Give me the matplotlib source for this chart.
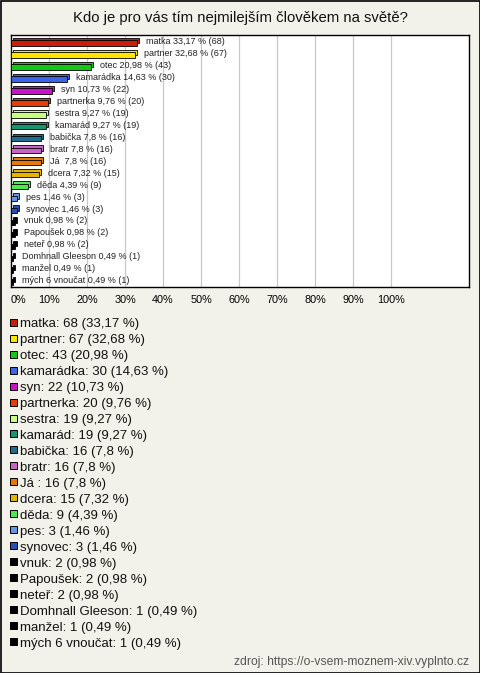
import matplotlib
matplotlib.use("Agg")
import matplotlib.pyplot as plt
import matplotlib.transforms as mtransforms
from matplotlib.patches import Rectangle

plt.rcParams['font.family'] = ['Liberation Sans', 'DejaVu Sans']

title = "Kdo je pro vás tím nejmilejším člověkem na světě?"
source = "zdroj: https://o-vsem-moznem-xiv.vyplnto.cz"

categories = ["matka", "partner", "otec", "kamarádka", "syn", "partnerka", "sestra",
              "kamarád", "babička", "bratr", "Já ", "dcera", "děda", "pes", "synovec",
              "vnuk", "Papoušek", "neteř", "Domhnall Gleeson", "manžel", "mých 6 vnoučat"]
counts = [68, 67, 43, 30, 22, 20, 19, 19, 16, 16, 16, 15, 9, 3, 3, 2, 2, 2, 1, 1, 1]
percents = [33.17, 32.68, 20.98, 14.63, 10.73, 9.76, 9.27, 9.27, 7.8, 7.8, 7.8, 7.32,
            4.39, 1.46, 1.46, 0.98, 0.98, 0.98, 0.49, 0.49, 0.49]
colors = ["#c81e0a", "#ffe600", "#14c814", "#3c64e6", "#c814c8", "#e63c0a", "#c8ff82",
          "#14966e", "#1e6e8c", "#c864c8", "#e6780a", "#e6b400", "#50e650", "#6496e6",
          "#2850b4", "#000000", "#000000", "#000000", "#000000", "#000000", "#000000"]
xticks = [0, 10, 20, 30, 40, 50, 60, 70, 80, 90, 100]

W, H = 480, 673
BG = "#f3f2ea"


def fmt(v):
    s = ("%.2f" % v).rstrip("0").rstrip(".")
    return s.replace(".", ",")


fig = plt.figure(figsize=(W / 100, H / 100), dpi=100, facecolor=BG)
fig.patches.append(Rectangle((0.5 / W, 0.5 / H), 1 - 1 / W, 1 - 1 / H, transform=fig.transFigure,
                             fill=False, edgecolor="black", linewidth=1.2))

fig.text(0.5, 1 - 18 / H, title, ha="center", va="center", fontsize=10.7, color="#111111")

ax_l, ax_t, ax_r, ax_b = 11, 35, 469, 287
ax = fig.add_axes([ax_l / W, 1 - ax_b / H, (ax_r - ax_l) / W, (ax_b - ax_t) / H])
ax.set_facecolor("white")
n = len(categories)
step = (280.7 - 41.7) / (n - 1)
ax.set_ylim(n - 1 + (ax_b - 280.7) / step, -(41.7 - ax_t) / step)
xmax = (ax_r - ax_l) / 380 * 100
ax.set_xlim(0, xmax)

for x in xticks[1:]:
    ax.axvline(x, color="#c8c8c8", linewidth=0.9, zorder=0)

ys = [i + 0.12 for i in range(n)]
bh = 0.45
# 3D top/side face
shadow = mtransforms.offset_copy(ax.transData, fig=fig, x=2, y=2.5, units="dots")
ax.barh(ys, percents, height=bh, color=colors, edgecolor="black",
        linewidth=0.6, transform=shadow, zorder=2)
ax.barh(ys, percents, height=bh, color=colors, edgecolor="black", linewidth=0.6, zorder=3)

for i, (cat, c, p) in enumerate(zip(categories, counts, percents)):
    lbl = "%s %s %% (%d)" % (cat, fmt(p), c)
    ax.annotate(lbl, (p, i), xytext=(9, 0), textcoords="offset pixels", ha="left",
                va="center", fontsize=6.5, color="#222222", zorder=4)

ax.set_xticks(xticks)
ax.set_xticklabels(["%d%%" % t for t in xticks], fontsize=7.8)
ax.tick_params(axis="x", length=0, pad=6)
first = ax.get_xticklabels()[0]
first.set_transform(first.get_transform() + mtransforms.ScaledTranslation(7 / 100, 0, fig.dpi_scale_trans))
ax.set_yticks([])
for s in ax.spines.values():
    s.set_color("black")
    s.set_linewidth(1)

# legend
leg_y0, leg_step = 322.3, (642 - 322.3) / (n - 1)
for i, (cat, c, p, col) in enumerate(zip(categories, counts, percents, colors)):
    y = leg_y0 + i * leg_step
    fig.patches.append(Rectangle((10 / W, 1 - (y + 3.3) / H), 7 / W, 7 / H, transform=fig.transFigure,
                                 facecolor=col, edgecolor="black", linewidth=0.7))
    fig.text(20 / W, 1 - (y + 4.7) / H, "%s: %d (%s %%)" % (cat, c, fmt(p)), ha="left",
             va="baseline", fontsize=9.5, color="#111111")

fig.text(469 / W, 1 - 662 / H, source, ha="right", va="center", fontsize=8.7, color="#555555")

fig.savefig("out.png", dpi=100, facecolor=BG)
